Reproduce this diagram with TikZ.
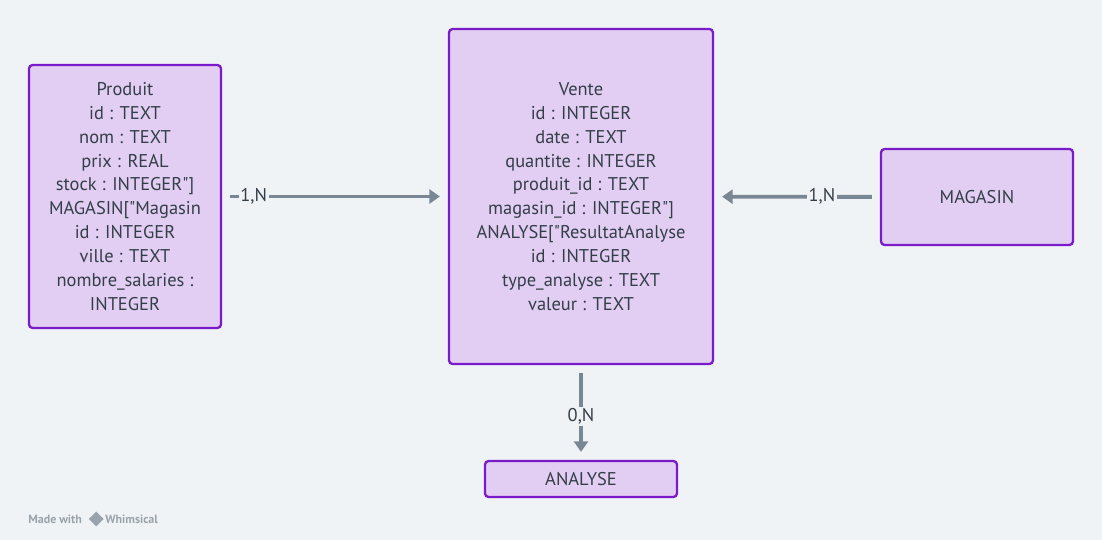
\documentclass[tikz,border=0pt]{standalone}
\usepackage{fontspec}
\setmainfont{PT Sans}
\usetikzlibrary{arrows.meta, positioning}
\definecolor{bgcol}{HTML}{F0F3F6}
\definecolor{boxfill}{HTML}{E3CEF3}
\definecolor{boxline}{HTML}{7A1BC9}
\definecolor{linkcol}{HTML}{788793}
\definecolor{txtcol}{HTML}{343E48}
\definecolor{markcol}{HTML}{9AA3AC}
\tikzset{
  entity/.style={draw=boxline, fill=boxfill, line width=1.3pt, rounded corners=2pt, align=center, text=txtcol, font=\fontsize{10.5}{13.6}\selectfont},
  link/.style={draw=linkcol, line width=2.2pt, shorten <=0.16cm, shorten >=0.16cm, -{Triangle[length=6pt, width=8pt]}},
  card/.style={fill=bgcol, text=txtcol, inner sep=1pt, font=\fontsize{10.5}{12}\selectfont},
  wmark/.style={text=markcol, inner sep=0pt, font=\fontsize{6.8}{8}\selectfont\bfseries}
}
\begin{document}
\begin{tikzpicture}[x=0.02cm, y=-0.02cm]
\fill[bgcol] (0,0) rectangle (1102,540);
\useasboundingbox (0,0) rectangle (1102,540);

\node (produit) at (125,196.5) [entity, minimum width=3.84cm, minimum height=5.26cm] {Produit \\ id : TEXT \\ nom : TEXT \\ prix : REAL \\ stock : INTEGER\textquotedbl] \\ MAGASIN[\textquotedbl Magasin \\ id : INTEGER \\ ville : TEXT \\ nombre\_salaries : \\ INTEGER};
\node (vente) at (581,196.5) [entity, minimum width=5.28cm, minimum height=6.7cm] {Vente \\ id : INTEGER \\ date : TEXT \\ quantite : INTEGER \\ produit\_id : TEXT \\ magasin\_id : INTEGER\textquotedbl] \\ ANALYSE[\textquotedbl ResultatAnalyse \\ id : INTEGER \\ type\_analyse : TEXT \\ valeur : TEXT};
\node (magasin) at (977,197) [entity, minimum width=3.84cm, minimum height=1.92cm] {MAGASIN};
\node (analyse) at (581,479) [entity, minimum width=3.84cm, minimum height=0.72cm] {ANALYSE};

\draw[link] (produit) -- node[card, pos=0.14] {1,N} (vente);
\draw[link] (magasin) -- node[card, pos=0.35] {1,N} (vente);
\draw[link] (vente) -- node[card, pos=0.54] {0,N} (analyse);

% watermark
\node (made) at (28,519) [wmark, anchor=west] {Made with};
\node (logo) at ([xshift=8pt]made.east) [fill=markcol, rotate=45, minimum size=6pt, inner sep=0pt] {};
\node (whim) at ([xshift=5pt]logo.center) [wmark, anchor=west] {Whimsical};
\end{tikzpicture}
\end{document}
